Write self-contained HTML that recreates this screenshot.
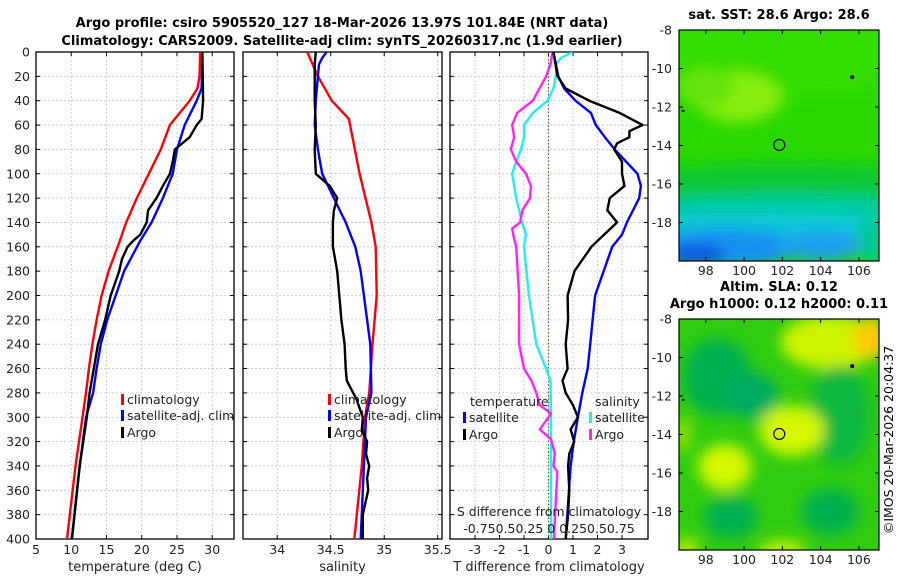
<!DOCTYPE html>
<html><head><meta charset="utf-8">
<style>
body{margin:0;background:#fff;width:900px;height:580px;overflow:hidden}
svg{font-family:"DejaVu Sans","Liberation Sans",sans-serif}
</style></head>
<body>
<svg id="fig" width="900" height="580" viewBox="0 0 900 580" xmlns="http://www.w3.org/2000/svg">
<defs>
<filter id="blur2" x="-50%" y="-50%" width="200%" height="200%"><feGaussianBlur stdDeviation="7"/></filter>
<clipPath id="cm1"><rect x="679" y="30" width="200" height="231"/></clipPath>
<clipPath id="cm2"><rect x="679" y="319" width="200" height="231"/></clipPath>
<clipPath id="cp1"><rect x="36" y="52" width="198" height="487"/></clipPath>
<clipPath id="cp2"><rect x="243" y="52" width="199" height="487"/></clipPath>
<clipPath id="cp3"><rect x="450" y="52" width="198" height="487"/></clipPath>
</defs>
<text x="342" y="27" text-anchor="middle" font-size="13" font-weight="bold">Argo profile: csiro 5905520_127 18-Mar-2026 13.97S 101.84E (NRT data)</text>
<text x="342" y="45" text-anchor="middle" font-size="13" font-weight="bold">Climatology: CARS2009. Satellite-adj clim: synTS_20260317.nc (1.9d earlier)</text>
<g id="plots"></g>
<g id="maps"></g>
<text transform="translate(893,440) rotate(-90)" text-anchor="middle" font-size="12.5">©IMOS 20-Mar-2026 20:04:37</text>
</svg>
<script>
// ---- data (depth in m) ----
const depthTicks = [0,20,40,60,80,100,120,140,160,180,200,220,240,260,280,300,320,340,360,380,400];
const tTicks = [5,10,15,20,25,30];
const sTicks = [34,34.5,35,35.5];
const dTicks = [-3,-2,-1,0,1,2,3];

const climTDepth = [0,20,30,40,50,60,80,100,120,140,155,180,200,220,240,260,280,300,340,400];
const climT      = [28.3,28.2,27.9,26.8,25.4,24.0,22.7,21.0,19.3,17.8,16.9,15.3,14.3,13.6,13.0,12.5,12.1,11.6,10.6,9.4];
const satTDepth  = [0,30,40,60,80,100,120,140,155,180,200,220,240,260,280,300,340,400];
const satT       = [28.6,28.5,27.8,26.1,25.0,24.4,23.0,21.4,19.8,17.5,16.3,15.1,14.2,13.6,13.1,12.1,11.2,10.1];
const argoTDepth = [0,40,55,60,70,80,90,100,110,120,130,140,150,155,160,170,180,200,220,240,260,280,300,340,400];
const argoT      = [28.6,28.7,28.5,27.8,26.8,24.7,24.4,24.0,23.0,22.1,20.9,20.7,19.8,18.8,18.0,17.2,16.8,15.6,14.8,13.8,13.2,12.6,12.2,11.2,10.1];

const climSDepth = [0,20,40,55,100,140,160,200,240,280,300,340,400];
const climS      = [34.28,34.38,34.51,34.67,34.77,34.88,34.92,34.93,34.89,34.86,34.82,34.79,34.72];
const satSDepth  = [0,5,10,20,40,60,80,100,120,140,160,180,200,240,280,300,400];
const satS       = [34.46,34.42,34.39,34.38,34.36,34.35,34.38,34.42,34.53,34.64,34.73,34.78,34.81,34.87,34.88,34.83,34.78];
const argoSDepth = [0,10,20,40,60,80,100,110,120,130,140,160,180,200,220,240,260,270,285,300,310,320,330,340,350,360,380,400];
const argoS      = [34.36,34.35,34.35,34.35,34.36,34.35,34.36,34.49,34.56,34.53,34.52,34.52,34.56,34.58,34.60,34.63,34.64,34.65,34.74,34.8,34.79,34.84,34.83,34.86,34.84,34.85,34.8,34.8];

const satDTDepth  = [0,20,30,40,50,60,70,80,100,110,120,140,150,160,200,240,260,280,300,320,340,400];
const satDT       = [0.2,0.4,0.64,1.1,1.73,1.93,2.3,2.7,3.63,3.77,3.7,3.2,3.0,2.6,1.9,1.7,1.6,1.38,1.2,1.03,0.9,0.7];
const argoDTDepth = [0,20,30,40,50,60,65,70,75,80,90,100,110,120,130,140,150,160,180,200,220,240,260,270,280,290,300,310,320,330,340,360,380,400];
const argoDT      = [0.2,0.37,0.7,1.66,2.9,3.84,3.3,3.3,2.8,2.68,3.0,3.0,3.1,2.5,2.4,2.8,2.27,1.75,1.06,0.78,0.8,0.7,0.78,0.57,0.7,1.0,1.2,0.9,1.05,0.85,0.8,0.85,0.8,0.7];
// salinity differences (psu); plotted with 0.25 psu = 1 T unit
const satDSDepth  = [0,5,10,20,30,40,50,60,70,80,90,100,120,140,150,160,200,240,250,260,270,300,400];
const satDS       = [0.245,0.125,0.08,0.075,0.05,-0.01,-0.16,-0.25,-0.25,-0.28,-0.33,-0.37,-0.33,-0.27,-0.23,-0.25,-0.2,-0.125,-0.075,-0.025,0.02,0.025,0.025];
const argoDSDepth = [0,10,20,40,50,60,70,80,90,100,110,120,130,140,145,150,160,200,240,260,270,280,290,297,300,310,318,330,340,345,400];
const argoDS      = [0.04,0.02,-0.025,-0.16,-0.32,-0.37,-0.35,-0.385,-0.33,-0.23,-0.18,-0.19,-0.265,-0.29,-0.37,-0.36,-0.33,-0.3,-0.3,-0.25,-0.175,-0.125,-0.09,0.025,0.0,-0.09,0.025,0.065,0.05,0.09,0.055];

const latTicks = [-8,-10,-12,-14,-16,-18];
const lonTicks = [98,100,102,104,106];

// ---- helpers ----
const NS='http://www.w3.org/2000/svg';
const plots=document.getElementById('plots');
const maps=document.getElementById('maps');
function mk(tag,attrs,parent){const e=document.createElementNS(NS,tag);for(const k in attrs)e.setAttribute(k,attrs[k]);(parent||plots).appendChild(e);return e;}
const Y0=52,Y1=539;
const yD=d=>Y0+d*(Y1-Y0)/400;

function panel(x0,x1,xmin,xmax,ticks,tickFmt,name,xlabel,showY){
  const g=mk('g',{});
  
  
  const xs=v=>x0+(v-xmin)*(x1-x0)/(xmax-xmin);
  ticks.forEach(t=>{
    const l=mk('line',{x1:xs(t),x2:xs(t),y1:Y0,y2:Y1,stroke:'#b8c4e8','stroke-width':0.8,'stroke-dasharray':'2,2'},g);
    
    
    mk('line',{x1:xs(t),x2:xs(t),y1:Y1,y2:Y1-4,stroke:'#000'},g);
    mk('line',{x1:xs(t),x2:xs(t),y1:Y0,y2:Y0+4,stroke:'#000'},g);
    const tx=mk('text',{x:xs(t),y:554,'text-anchor':'middle','font-size':12.5,fill:'#222'},g);
    tx.textContent=tickFmt(t);
    
    
  });
  depthTicks.forEach(d=>{
    const l=mk('line',{x1:x0,x2:x1,y1:yD(d),y2:yD(d),stroke:'#b8c4e8','stroke-width':0.8,'stroke-dasharray':'2,2'},g);
    
    
    mk('line',{x1:x0,x2:x0+4,y1:yD(d),y2:yD(d),stroke:'#000'},g);
    mk('line',{x1:x1,x2:x1-4,y1:yD(d),y2:yD(d),stroke:'#000'},g);
    if(showY){
      const tx=mk('text',{x:30,y:yD(d)+4.5,'text-anchor':'end','font-size':12.5,fill:'#222'},g);
      tx.textContent=d;
      
      
    }
  });
  const r=mk('rect',{x:x0,y:Y0,width:x1-x0,height:Y1-Y0,fill:'none',stroke:'#000','stroke-width':1.3},g);
  
  
  const xl=mk('text',{x:(x0+x1)/2,y:571,'text-anchor':'middle','font-size':13,fill:'#222'},g);
  xl.textContent=xlabel;
  
  
  return {g,xs};
}
function series(p,clip,depths,vals,color,name,scale){
  const sc=scale||1;
  const pts=depths.map((d,i)=>p.xs(vals[i]*sc).toFixed(1)+','+yD(d).toFixed(1)).join(' ');
  const pl=mk('polyline',{points:pts,fill:'none',stroke:color,'stroke-width':2.4,'stroke-linejoin':'round','clip-path':'url(#'+clip+')'},p.g);
  
  
}
function legend(g,x,y,color,label,name){
  const gg=mk('g',{},g);
  
  
  mk('rect',{x:x,y:y-9,width:3,height:11,fill:color},gg);
  const t=mk('text',{x:x+6,y:y+1,'font-size':12.5,fill:'#222'},gg);
  t.textContent=label;
}
function txt(g,x,y,s,name,anchor){const t=mk('text',{x:x,y:y,'font-size':12.5,fill:'#222','text-anchor':anchor||'start'},g);t.textContent=s;}

// panel 1
const p1=panel(36,234,5,33.09,tTicks,t=>t,'temperature-panel','temperature (deg C)',true);
series(p1,'cp1',climTDepth,climT,'#ff0000','climatology-temperature-line');
series(p1,'cp1',satTDepth,satT,'#0000ff','satellite-temperature-line');
series(p1,'cp1',argoTDepth,argoT,'#000000','argo-temperature-line');
legend(p1.g,121,403,'#ff0000','climatology','legend-climatology');
legend(p1.g,121,419,'#0000ff','satellite-adj. clim','legend-satellite');
legend(p1.g,121,436,'#000000','Argo','legend-argo');

// panel 2
const p2=panel(243,442,33.68,35.54,sTicks,t=>t,'salinity-panel','salinity',false);
series(p2,'cp2',climSDepth,climS,'#ff0000','climatology-salinity-line');
series(p2,'cp2',satSDepth,satS,'#0000ff','satellite-salinity-line');
series(p2,'cp2',argoSDepth,argoS,'#000000','argo-salinity-line');
legend(p2.g,328,403,'#ff0000','climatology','legend-climatology-s');
legend(p2.g,328,419,'#0000ff','satellite-adj. clim','legend-satellite-s');
legend(p2.g,328,436,'#000000','Argo','legend-argo-s');

// panel 3
const p3=panel(450,648,-4.02,4.06,dTicks,t=>t,'difference-panel','T difference from climatology',false);
const zl=mk('line',{x1:p3.xs(0),x2:p3.xs(0),y1:Y0,y2:Y1,stroke:'#556b2f','stroke-width':1.2,'stroke-dasharray':'1.5,2'},p3.g);


series(p3,'cp3',satDSDepth,satDS,'#22eeee','satellite-salinity-diff-line',4);
series(p3,'cp3',argoDSDepth,argoDS,'#ff22ff','argo-salinity-diff-line',4);
series(p3,'cp3',satDTDepth,satDT,'#0000ff','satellite-temperature-diff-line');
series(p3,'cp3',argoDTDepth,argoDT,'#000000','argo-temperature-diff-line');
txt(p3.g,470,406,'temperature','legend-temperature-header');
legend(p3.g,463,421,'#0000ff','satellite','legend-satellite-t');
legend(p3.g,463,438,'#000000','Argo','legend-argo-t');
txt(p3.g,595,406,'salinity','legend-salinity-header');
legend(p3.g,589,421,'#22eeee','satellite','legend-satellite-sd');
legend(p3.g,589,438,'#ff22ff','Argo','legend-argo-sd');
txt(p3.g,549,516,'S difference from climatology','s-axis-title','middle');
txt(p3.g,549,533,'-0.750.50.25 0 0.250.50.75','s-axis-ticks','middle');

// ---- maps ----
const MX0=679,MX1=879,LON0=96.6,LON1=107.05;
const lonX=l=>MX0+(l-LON0)*(MX1-MX0)/(LON1-LON0);
function mapFrame(top,title1,title2,name,blobs,base){
  const g=mk('g',{},maps);
  
  
  const latY=la=>top+(-8-la)*19.25;
  const c=mk('g',{'clip-path':'url(#'+(top<100?'cm1':'cm2')+')'},g);
  mk('rect',{x:MX0,y:top,width:200,height:231,fill:base},c);
  const bg=mk('g',{filter:'url(#blur2)'},c);
  blobs.forEach(b=>{
    const e=mk('ellipse',{cx:lonX(b[0]),cy:latY(b[1]),rx:b[2]*19.2,ry:b[3]*19.2,fill:b[4]},bg);
    
    
  });
  const fr=mk('rect',{x:MX0,y:top,width:200,height:231,fill:'none',stroke:'#000','stroke-width':1.2},g);
  
  
  latTicks.forEach(la=>{
    mk('line',{x1:MX0,x2:MX0+4,y1:latY(la),y2:latY(la),stroke:'#000'},g);
    mk('line',{x1:MX1,x2:MX1-4,y1:latY(la),y2:latY(la),stroke:'#000'},g);
    const t=mk('text',{x:672,y:latY(la)+4.5,'text-anchor':'end','font-size':12.5,fill:'#222'},g);
    t.textContent=la;
    
    
  });
  lonTicks.forEach(lo=>{
    mk('line',{x1:lonX(lo),x2:lonX(lo),y1:top+231,y2:top+227,stroke:'#000'},g);
    mk('line',{x1:lonX(lo),x2:lonX(lo),y1:top,y2:top+4,stroke:'#000'},g);
    const t=mk('text',{x:lonX(lo),y:top+245,'text-anchor':'middle','font-size':12.5,fill:'#222'},g);
    t.textContent=lo;
    
    
  });
  const m=mk('circle',{cx:lonX(101.84),cy:latY(-13.97),r:5.5,fill:'none',stroke:'#000','stroke-width':1.2},g);
  
  
  mk('circle',{cx:lonX(105.65),cy:latY(-10.45),r:2,fill:'#000'},g);
  mk('rect',{x:lonX(96.75),y:latY(-12.2)-1,width:2.5,height:2,fill:'#000'},g);
  const t1=mk('text',{x:779,y:top-(title2?28:11),'text-anchor':'middle','font-size':13,'font-weight':'bold'},g);
  t1.textContent=title1;
  
  
  if(title2){const t2=mk('text',{x:779,y:top-11,'text-anchor':'middle','font-size':13,'font-weight':'bold'},g);t2.textContent=title2;}
}
// blobs: lon, lat, rx(deg), ry(deg), colour
mapFrame(30,'sat. SST: 28.6 Argo: 28.6',null,'sst-map',[
 [102,-9,8,2.5,'#33dd00'],[99.7,-11.5,2.3,1.3,'#88ee11'],[98,-11,1.5,1,'#66e40a'],
 [102,-15.9,8,1.0,'#10c830'],[102,-17.3,8,0.8,'#00cca0'],[100,-18.2,8,0.7,'#10c8d8'],
 [99,-19.3,4,1,'#1890f0'],[104,-19.2,2.3,0.8,'#1aa0f0'],[97.5,-19.7,1.5,0.6,'#0858e0'],[106.8,-19,0.8,1.2,'#00c890']
],'#2ad800');
mapFrame(319,'Altim. SLA: 0.12','Argo h1000: 0.12 h2000: 0.11','sla-map',[
 [104.5,-9.2,2.6,1.4,'#ccf400'],[106.6,-9,0.9,1.1,'#ffcc00'],[98.6,-11,1.8,2,'#00b050'],[100.4,-12,1.4,1.2,'#00ac60'],
 [105,-13,1.6,2.6,'#08b840'],[102.5,-13.8,1.7,1.3,'#d4f800'],[99,-15.7,1.4,1.2,'#d4f800'],
 [99.3,-18.3,1.4,1.1,'#00b050'],[104.5,-18,1.5,1.2,'#00b050'],[102,-20,1.2,0.5,'#c4f000'],[97,-19.9,0.6,0.5,'#c4f000'],[96.8,-14,0.4,0.9,'#99e400']
],'#30cc10');
</script>
</body></html>
